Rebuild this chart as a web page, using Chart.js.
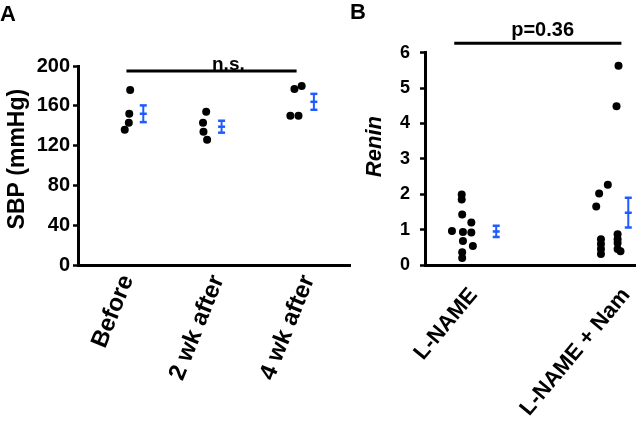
<!DOCTYPE html>
<html>
<head>
<meta charset="utf-8">
<script src="https://cdn.jsdelivr.net/npm/chart.js@4"></script>
<style>
  html, body { margin: 0; padding: 0; background: #fff; }
  body { width: 641px; height: 426px; position: relative; overflow: hidden; }
  .panel { position: absolute; top: 0; height: 426px; }
  #panelA { left: 0; width: 356px; }
  #panelB { left: 350px; width: 291px; }
</style>
</head>
<body>
<div class="panel" id="panelA"><canvas id="chartA"></canvas></div>
<div class="panel" id="panelB"><canvas id="chartB"></canvas></div>
<script>
// Panel A - systolic blood pressure, one row per group
const sbpLabels = ['Before', '2 wk after', '4 wk after'];
const sbpValues = [
  [176, 152, 143, 136],
  [154, 143, 134, 126],
  [177, 180, 150, 150]
];
// horizontal scatter of the dots inside each group (in group units)
const sbpJitter = [
  [0.03, 0.02, 0.015, -0.03],
  [-0.13, -0.165, -0.16, -0.12],
  [-0.155, -0.075, -0.2, -0.11]
];
const sbpMean = [152, 139, 164];
const sbpSem = [8.4, 6, 8];
const sbpBarShift = [0.175, 0.04, 0.06];
const sbpTicks = [0, 40, 80, 120, 160, 200];

// Panel B - renin
const reninLabels = ['L-NAME', 'L-NAME + Nam'];
const reninValues = [
  [1.99, 1.85, 1.43, 1.20, 0.96, 0.93, 0.92, 0.68, 0.54, 0.36, 0.20],
  [5.63, 4.49, 2.27, 2.02, 1.65, 0.73, 0.59, 0.45, 0.31, 0.87, 0.73, 0.62, 0.45, 0.39]
];
const reninJitter = [
  [-0.078, -0.078, -0.075, -0.015, -0.142, -0.07, -0.015, -0.07, -0.005, -0.075, -0.075],
  [-0.051, -0.064, -0.121, -0.178, -0.197, -0.166, -0.166, -0.166, -0.166, -0.057, -0.057, -0.057, -0.057, -0.038]
];
const reninMean = [0.95, 1.48];
const reninSem = [0.16, 0.42];
const reninBarShift = [0.148, 0.013];
const reninTicks = [0, 1, 2, 3, 4, 5, 6];

const FONT = "'Liberation Sans', Arial, Helvetica, sans-serif";
const BLUE = '#1e5cff';

// draws the text above the significance bar
const sigTextPlugin = {
  id: 'sigText',
  afterDatasetsDraw(chart, args, opts) {
    const { ctx, scales: { x, y } } = chart;
    ctx.save();
    ctx.font = opts.font;
    ctx.fillStyle = '#000';
    ctx.textAlign = 'center';
    ctx.textBaseline = 'alphabetic';
    ctx.fillText(opts.text, x.getPixelForValue(opts.x), y.getPixelForValue(opts.y));
    ctx.restore();
  }
};

function makePanel(p) {
  const dots = [];
  p.values.forEach((group, i) => {
    group.forEach((v, j) => dots.push({ x: i + 1 + p.jitter[i][j], y: v }));
  });

  const datasets = [{
    type: 'scatter',
    data: dots,
    backgroundColor: '#000',
    borderWidth: 0,
    pointRadius: 4,
    pointHoverRadius: 4
  }];

  // error bars: low cap, mean mark, high cap joined by a line
  p.mean.forEach((m, i) => {
    const bx = i + 1 + p.barShift[i];
    datasets.push({
      type: 'line',
      data: [{ x: bx, y: m - p.sem[i] }, { x: bx, y: m }, { x: bx, y: m + p.sem[i] }],
      borderColor: BLUE,
      borderWidth: 2,
      pointStyle: 'line',
      pointRadius: 3.5,
      pointHoverRadius: 3.5,
      pointBorderColor: BLUE,
      pointBorderWidth: 2.5,
      fill: false
    });
  });

  // significance bar
  datasets.push({
    type: 'line',
    data: [{ x: p.sig.from, y: p.sig.y }, { x: p.sig.to, y: p.sig.y }],
    borderColor: '#000',
    borderWidth: 3,
    pointRadius: 0,
    clip: false,
    fill: false
  });

  return new Chart(document.getElementById(p.id), {
    data: { datasets },
    plugins: [sigTextPlugin],
    options: {
      responsive: true,
      maintainAspectRatio: false,
      animation: false,
      events: [],
      layout: { padding: { left: 0, right: p.rightPad, top: 0, bottom: 0 } },
      plugins: {
        legend: { display: false },
        tooltip: { enabled: false },
        title: {
          display: true,
          text: p.panel,
          align: 'start',
          color: '#000',
          font: { family: FONT, size: 22, weight: 'bold', lineHeight: 1.2 },
          padding: p.titlePad
        },
        sigText: { text: p.sig.text, x: p.sig.textX, y: p.sig.textY, font: 'bold ' + p.sig.size + 'px ' + FONT }
      },
      scales: {
        x: {
          type: 'linear',
          min: p.xMin,
          max: p.xMax,
          afterBuildTicks: s => { s.ticks = p.labels.map((_, i) => ({ value: i + 1 })); },
          afterFit: s => { s.height = p.xHeight; s.paddingLeft = 0; s.paddingRight = 0; },
          ticks: {
            autoSkip: false,
            minRotation: p.rotation,
            maxRotation: p.rotation,
            padding: p.xPad,
            color: '#000',
            font: { family: FONT, size: p.xFont, weight: 'bold' },
            callback: v => p.labels[v - 1]
          },
          grid: { display: false, drawTicks: false },
          border: { display: true, color: '#000', width: 3 }
        },
        y: {
          min: 0,
          max: p.ticks[p.ticks.length - 1],
          afterBuildTicks: s => { s.ticks = p.ticks.map(v => ({ value: v })); },
          afterFit: s => { s.width = p.yWidth; },
          ticks: {
            color: '#000',
            padding: p.yPad,
            font: { family: FONT, size: p.yFont, weight: 'bold' }
          },
          grid: { drawOnChartArea: false, drawTicks: true, tickLength: 5, tickWidth: 2.5, tickColor: '#000' },
          border: { display: true, color: '#000', width: 3 },
          title: {
            display: true,
            // leading spaces nudge the rotated title a little above the axis middle
            text: p.yTitle,
            color: '#000',
            padding: { top: p.yTitlePad, bottom: 0 },
            font: { family: FONT, size: p.yTitleSize, weight: 'bold', style: p.yTitleStyle }
          }
        }
      }
    }
  });
}

makePanel({
  id: 'chartA', panel: 'A',
  labels: sbpLabels, values: sbpValues, jitter: sbpJitter,
  mean: sbpMean, sem: sbpSem, barShift: sbpBarShift, ticks: sbpTicks,
  sig: { from: 0.989, to: 2.869, y: 195, text: 'n.s.', textX: 2.115, textY: 195.5, size: 19 },
  xMin: 0.4536, xMax: 3.459, rotation: 68, xPad: 6, xHeight: 161, xFont: 24,
  yWidth: 78, yPad: 3, yFont: 20,
  yTitle: '  SBP (mmHg)', yTitleSize: 23, yTitleStyle: 'normal', yTitlePad: 4,
  titlePad: { top: 2, bottom: 37.6 }, rightPad: 3
});

makePanel({
  id: 'chartB', panel: 'B',
  labels: reninLabels, values: reninValues, jitter: reninJitter,
  mean: reninMean, sem: reninSem, barShift: reninBarShift, ticks: reninTicks,
  sig: { from: 0.873, to: 1.968, y: 6.27, text: 'p=0.36', textX: 1.452, textY: 6.47, size: 20 },
  xMin: 0.6815, xMax: 2.057, rotation: 50, xPad: 18, xHeight: 161, xFont: 22,
  yWidth: 75, yPad: 10, yFont: 18,
  yTitle: '    Renin', yTitleSize: 22, yTitleStyle: 'italic', yTitlePad: 12,
  titlePad: { top: 0, bottom: 26.3 }, rightPad: 0
});
</script>
</body>
</html>
